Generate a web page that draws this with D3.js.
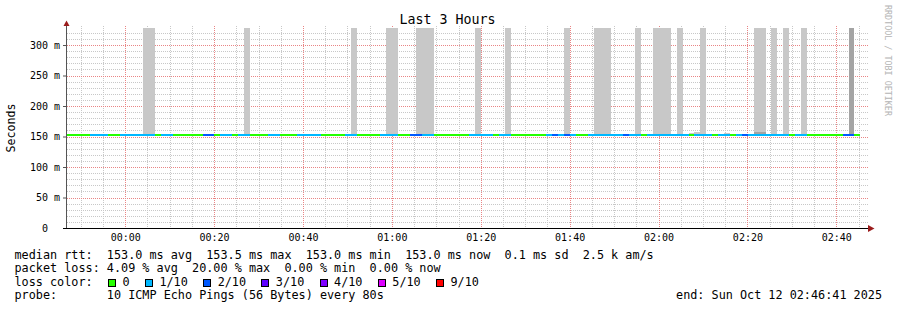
<!DOCTYPE html>
<html>
<head>
<meta charset="utf-8">
<script src="https://cdn.jsdelivr.net/npm/d3@7"></script>
<style>
body { margin: 0; background: #fff; }
text { font-family: "DejaVu Sans Mono", monospace; white-space: pre; }
</style>
</head>
<body>
<div id="chart"></div>
<script>
// values
let title = "Last 3 Hours";
let endTime = "2025-10-12T02:46:41Z";
let rangeSeconds = 10800;
let firstStep = "2025-10-11T23:46:45Z";
let stepSeconds = 80;
let medianRtt = 153.0; // ms

// lost pings (out of 10) for every 80s step
let lossSteps = [
  0,0,0,0,1,1,1,0,0,1, 1,1,1,1,1,0,1,1,0,0,
  0,0,0,2,2,0,1,1,0,1, 1,0,0,0,1,1,0,0,0,1,
  1,1,1,0,0,0,0,1,1,0, 0,0,0,1,1,1,0,0,2,2,
  1,1,0,0,0,0,0,0,1,1, 1,1,0,1,1,0,0,0,0,0,
  0,1,2,1,2,1,0,0,1,1, 1,1,1,1,2,1,1,0,1,1,
  1,1,1,1,1,0,1,1,1,0, 1,1,0,1,2,1,1,1,1,1,
  1,1,0,1,1,0,0,0,0,0, 0,2,2,0
];

// smoke (spread of the pings above the median), ms
let smokeSteps = [13,14,30,48,54,55,59,60,61,69,74,84,89,90,91,96,99,100,101,103,105,106,107,111,116,117,119,121,124];
let smokeTops  = [400,400,400,400,400,400,400,400,400,400,400,400,400,400,400,400,400,400,400,400,155.7,157.4,400,156.2,400,400,400,400,400];
let denseSteps = [116,117,132];
let denseTops  = [157.4,157.4,400];

let lossLevels = [0,1,2,3,4,5,9];
let lossLabels = ["0","1/10","2/10","3/10","4/10","5/10","9/10"];
let lossColors = ["#26ff00","#00b8ff","#0059ff","#5e00ff","#7e00ff","#dd00ff","#ff0000"];

let yMajor = [0,50,100,150,200,250,300];

let statLines = [
  "median rtt:  153.0 ms avg  153.5 ms max  153.0 ms min  153.0 ms now  0.1 ms sd  2.5 k am/s",
  "packet loss: 4.09 % avg  20.00 % max  0.00 % min  0.00 % now"
];
let lossTitle = "loss color:";
let probeLine = "probe:       10 ICMP Echo Pings (56 Bytes) every 80s";
let endLine = "end: Sun Oct 12 02:46:41 2025";
let yTitle = "Seconds";
let watermark = "RRDTOOL / TOBI OETIKER";


let width = 897,
height = 310;

let svg = d3.select("#chart")
.append("svg")
.attr("width", width)
.attr("height", height);

let end = new Date(endTime),
start = new Date(end.getTime() - rangeSeconds * 1000),
t0 = new Date(firstStep);

let x = d3.scaleUtc()
.domain([start, end])
.range([66, 866]);

let y = d3.scaleLinear()
.domain([0, 327.9])
.range([228, 28]);

let lossColor = d3.scaleOrdinal()
.domain(lossLevels)
.range(lossColors);

function stepTime(i) {
  return new Date(t0.getTime() + i * stepSeconds * 1000);
}

let grid = svg.append("g");
let smoke = svg.append("g").attr("shape-rendering", "crispEdges");
let line = svg.append("g").attr("shape-rendering", "crispEdges");
let axes = svg.append("g");
let legend = svg.append("g");

// grid
let majorX = x.ticks(d3.utcMinute.every(20));
let minorX = x.ticks(d3.utcMinute.every(5)).filter(d => d.getUTCMinutes() % 20 != 0);
let minorY = d3.range(10, 328, 10).filter(d => d % 50 != 0);
let majorY = yMajor.filter(d => d > 0);

function vLines(data, color) {
  grid.append("g").selectAll("line")
  .data(data)
  .enter().append("line")
  .attr("x1", d => Math.round(x(d)) + .5)
  .attr("x2", d => Math.round(x(d)) + .5)
  .attr("y1", 26)
  .attr("y2", 228)
  .attr("stroke", color)
  .attr("stroke-dasharray", "1 1");
}

function hLines(data, color) {
  grid.append("g").selectAll("line")
  .data(data)
  .enter().append("line")
  .attr("x1", 67)
  .attr("x2", 868)
  .attr("y1", d => Math.round(y(d)) + .5)
  .attr("y2", d => Math.round(y(d)) + .5)
  .attr("stroke", color)
  .attr("stroke-dasharray", "1 1");
}

vLines(minorX, "#c8c8c8");
hLines(minorY, "#c8c8c8");
vLines(majorX, "#e98585");
hLines(majorY, "#e98585");

// smoke
function smokeRects(steps, tops, fill) {
  let data = steps.map((s, i) => ({ a: stepTime(s), b: stepTime(s + 1), top: tops[i] }));
  smoke.append("g").selectAll("rect")
  .data(data)
  .enter().append("rect")
  .attr("x", d => Math.round(x(d.a)))
  .attr("width", d => Math.round(x(d.b)) - Math.round(x(d.a)))
  .attr("y", d => Math.round(Math.max(y(d.top), y.range()[1])))
  .attr("height", d => Math.round(y(medianRtt)) - Math.round(Math.max(y(d.top), y.range()[1])))
  .attr("fill", fill);
}
smokeRects(smokeSteps, smokeTops, "#c8c8c8");
smokeRects(denseSteps, denseTops, "#a4a4a4");

// median line coloured by loss
let steps = lossSteps.map((l, i) => ({ a: stepTime(i), b: stepTime(i + 1), loss: l }));

line.selectAll("rect")
.data(steps)
.enter().append("rect")
.attr("x", d => Math.round(x(d.a)))
.attr("width", d => Math.round(x(d.b)) - Math.round(x(d.a)))
.attr("y", Math.round(y(medianRtt)) - 1)
.attr("height", 2)
.attr("fill", d => lossColor(d.loss));

// axes
let yAxis = axes.append("g")
.attr("transform", "translate(66,0)")
.call(d3.axisLeft(y)
  .tickValues(yMajor)
  .tickSize(3)
  .tickPadding(3)
  .tickFormat(d => d == 0 ? "0\u00a0\u00a0" : d + " m"));
yAxis.select(".domain").remove();
yAxis.selectAll("line").attr("stroke", "#555");
yAxis.selectAll("text").attr("font-family", "DejaVu Sans Mono").attr("font-size", "10px").attr("fill", "#000");

let xAxis = axes.append("g")
.attr("transform", "translate(0,228)")
.call(d3.axisBottom(x)
  .ticks(d3.utcMinute.every(20))
  .tickSize(0)
  .tickPadding(6)
  .tickFormat(d3.utcFormat("%H:%M")));
xAxis.select(".domain").remove();
xAxis.selectAll("text").attr("font-family", "DejaVu Sans Mono").attr("font-size", "10px").attr("fill", "#000");

axes.append("line")
.attr("x1", 66.5).attr("x2", 66.5)
.attr("y1", 228).attr("y2", 25)
.attr("stroke", "#555");

axes.append("line")
.attr("x1", 63).attr("x2", 869)
.attr("y1", 228.5).attr("y2", 228.5)
.attr("stroke", "#000");

axes.append("path")
.attr("d", "M63.5,26L69.5,26L66.5,20.5Z")
.attr("fill", "#9b1c1c");

axes.append("path")
.attr("d", "M868,225L868,232L874.5,228.5Z")
.attr("fill", "#9b1c1c");

// titles
svg.append("text")
.attr("x", 447.5)
.attr("y", 24)
.attr("text-anchor", "middle")
.attr("font-size", "13.3px")
.attr("fill", "#000")
.text(title);

svg.append("text")
.attr("transform", "translate(14.5,128) rotate(-90)")
.attr("text-anchor", "middle")
.attr("font-size", "11.6px")
.attr("fill", "#000")
.text(yTitle);

svg.append("text")
.attr("transform", "translate(885,5) rotate(90)")
.attr("font-size", "8.4px")
.attr("fill", "#b4b4b4")
.text(watermark);

// legend
legend.selectAll(".stat")
.data(statLines)
.enter().append("text")
.attr("x", 14.5)
.attr("y", (d, i) => 258.5 + i * 13.6)
.attr("font-size", "11.8px")
.attr("fill", "#000")
.text(d => d);

legend.append("text")
.attr("x", 14.5)
.attr("y", 285.7)
.attr("font-size", "11.8px")
.attr("fill", "#000")
.text(lossTitle);

let lx = 108;
lossLabels.forEach((lab, i) => {
  legend.append("rect")
  .attr("x", lx + .5)
  .attr("y", 279.5)
  .attr("width", 7)
  .attr("height", 7)
  .attr("fill", lossColors[i])
  .attr("stroke", "#000")
  .attr("shape-rendering", "crispEdges");
  let t = legend.append("text")
  .attr("x", lx + 14.5)
  .attr("y", 285.7)
  .attr("font-size", "11.8px")
  .attr("fill", "#000")
  .text(lab);
  lx = lx + 14.5 + t.node().getComputedTextLength() + 15.3;
});

legend.append("text")
.attr("x", 14.5)
.attr("y", 299.3)
.attr("font-size", "11.8px")
.attr("fill", "#000")
.text(probeLine);

legend.append("text")
.attr("x", 882)
.attr("y", 299.3)
.attr("text-anchor", "end")
.attr("font-size", "11.8px")
.attr("fill", "#000")
.text(endLine);
</script>
</body>
</html>
